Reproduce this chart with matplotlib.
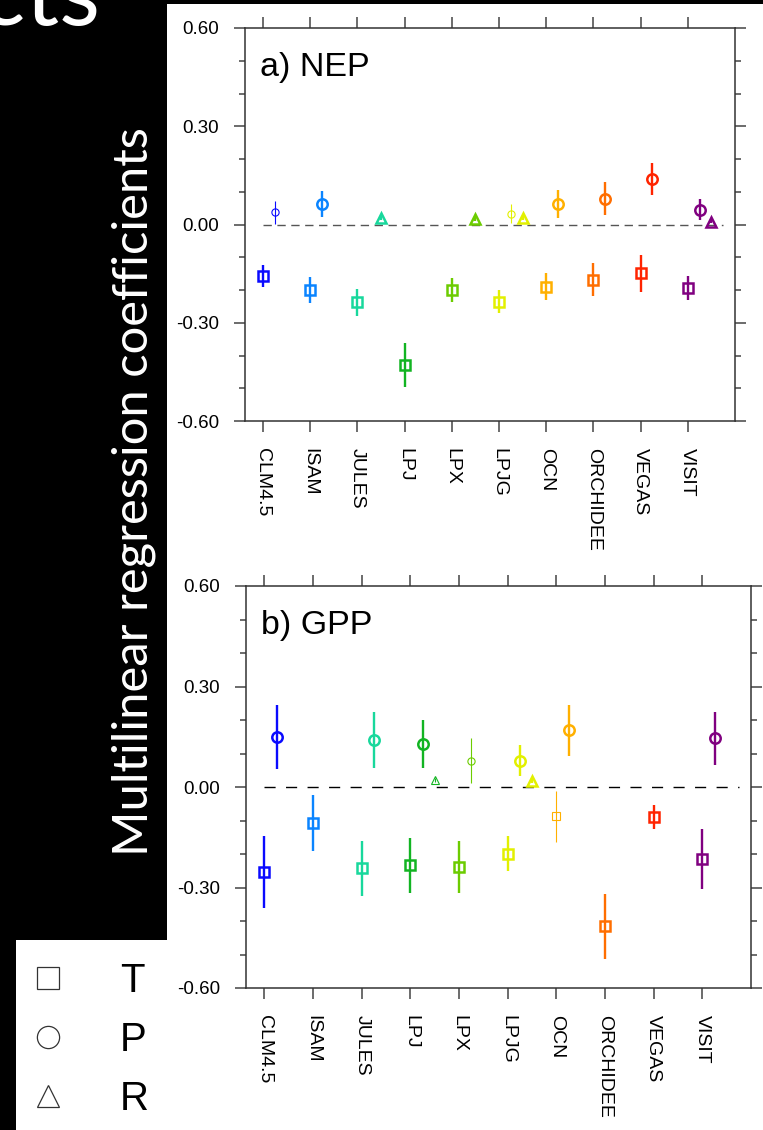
import numpy as np
import matplotlib
matplotlib.use("Agg")
import matplotlib.pyplot as plt
from matplotlib.patches import Rectangle
from matplotlib.lines import Line2D
from matplotlib.ticker import MultipleLocator, FormatStrFormatter

plt.rcParams.update(
    {
        "font.family": ["Liberation Sans", "DejaVu Sans"],
        "axes.linewidth": 1.1,
    }
)

nan = np.nan

# models and colours
models = ["CLM4.5", "ISAM", "JULES", "LPJ", "LPX", "LPJG", "OCN", "ORCHIDEE", "VEGAS", "VISIT"]
model_colors = ["#0a0aff", "#0a84ff", "#18d89c", "#12b422", "#6ccc00",
                "#e2f000", "#ffb000", "#ff6e00", "#ff2400", "#800080"]

# a) NEP : T (temperature), P (precipitation), R (radiation)
nep_T = [-0.158, -0.200, -0.238, -0.428, -0.200, -0.236, -0.190, -0.169, -0.149, -0.194]
nep_T_err = [0.034, 0.040, 0.042, 0.067, 0.037, 0.035, 0.042, 0.050, 0.057, 0.036]
nep_T_sig = [True, True, True, True, True, True, True, True, True, True]
nep_P = [0.037, 0.062, nan, nan, nan, 0.033, 0.063, 0.079, 0.140, 0.045]
nep_P_err = [0.034, 0.040, nan, nan, nan, 0.029, 0.043, 0.050, 0.049, 0.032]
nep_P_sig = [False, True, True, True, True, False, True, True, True, True]
nep_R = [nan, nan, 0.020, nan, 0.018, 0.019, nan, nan, nan, 0.009]
nep_R_err = [nan, nan, 0.006, nan, 0.006, 0.006, nan, nan, nan, 0.005]
nep_R_sig = [True, True, True, True, True, True, True, True, True, True]

# b) GPP
gpp_T = [-0.254, -0.107, -0.243, -0.234, -0.238, -0.199, -0.088, -0.416, -0.090, -0.214]
gpp_T_err = [0.108, 0.083, 0.083, 0.081, 0.077, 0.052, 0.076, 0.097, 0.036, 0.090]
gpp_T_sig = [True, True, True, True, True, True, False, True, True, True]
gpp_P = [0.150, nan, 0.141, 0.128, 0.078, 0.078, 0.169, nan, nan, 0.146]
gpp_P_err = [0.095, nan, 0.083, 0.072, 0.067, 0.046, 0.077, nan, nan, 0.079]
gpp_P_sig = [True, True, True, True, False, True, True, True, True, True]
gpp_R = [nan, nan, nan, 0.020, nan, 0.019, nan, nan, nan, nan]
gpp_R_err = [nan, nan, nan, 0.006, nan, 0.006, nan, nan, nan, nan]
gpp_R_sig = [True, True, True, False, True, True, True, True, True, True]

yticks = [-0.6, -0.3, 0.0, 0.3, 0.6]
legend_labels = ["T", "P", "R"]
ylabel = "Multilinear regression coefficients"

# figure geometry in pixels
W, H = 763, 1130


def fx(x):
    return x / W


def fy(y):
    return 1 - y / H


fig = plt.figure(figsize=(W / 100, H / 100), dpi=100, facecolor="black")

# white areas on the black slide
fig.patches.append(Rectangle((fx(167), 0), fx(763) - fx(167), fy(4),
                             transform=fig.transFigure, facecolor="white",
                             edgecolor="none", zorder=-5))
fig.patches.append(Rectangle((fx(16), 0), fx(167) - fx(16), fy(940),
                             transform=fig.transFigure, facecolor="white",
                             edgecolor="none", zorder=-5))

ax_a = fig.add_axes([fx(245), fy(421), fx(735) - fx(245), (421 - 28) / H])
ax_b = fig.add_axes([fx(246), fy(988), fx(751) - fx(246), (988 - 586) / H])


def draw_panel(ax, series, title, zero_color, dashes):
    ax.hlines(0, 0, 9.75, colors=zero_color, linestyles=(0, dashes), linewidth=1.0, zorder=1)
    for vals, errs, sigs, mk, off in series:
        for i in range(len(models)):
            if np.isnan(vals[i]):
                continue
            sig = sigs[i]
            ax.errorbar(i + off, vals[i], yerr=errs[i], fmt=mk, color=model_colors[i],
                        mfc="none", ms=7.5 if sig else 5.2,
                        mew=1.8 if sig else 0.8,
                        elinewidth=1.7 if sig else 0.8,
                        capsize=0, zorder=3)
    ax.set_xlim(-0.38, 10.0)
    ax.set_ylim(-0.6, 0.6)
    ax.set_xticks(range(len(models)))
    ax.set_xticklabels(models, rotation=270, fontsize=14)
    ax.set_yticks(yticks)
    ax.yaxis.set_major_formatter(FormatStrFormatter("%.2f"))
    ax.yaxis.set_minor_locator(MultipleLocator(0.1))
    ax.tick_params(axis="both", which="both", direction="out", top=True, right=True,
                   color="#444444", width=1.1)
    ax.tick_params(axis="both", which="major", length=8)
    ax.tick_params(axis="y", which="minor", length=4)
    ax.tick_params(axis="y", which="major", labelsize=13.5, pad=10.5)
    ax.tick_params(axis="x", which="major", pad=11.5)
    for sp in ax.spines.values():
        sp.set_color("#333333")
    ax.text(0.03, 0.94, title, transform=ax.transAxes, fontsize=24.5, ha="left", va="top")


draw_panel(ax_a,
           [(nep_T, nep_T_err, nep_T_sig, "s", 0.0),
            (nep_P, nep_P_err, nep_P_sig, "o", 0.25),
            (nep_R, nep_R_err, nep_R_sig, "^", 0.5)],
           "a) NEP", "#555555", (6, 4))
draw_panel(ax_b,
           [(gpp_T, gpp_T_err, gpp_T_sig, "s", 0.0),
            (gpp_P, gpp_P_err, gpp_P_sig, "o", 0.25),
            (gpp_R, gpp_R_err, gpp_R_sig, "^", 0.5)],
           "b) GPP", "black", (8, 7.5))

# slide text in white on black
fig.text(fx(148), fy(492), ylabel, rotation=90, rotation_mode="anchor",
         ha="center", va="baseline", color="white", fontsize=35.3, family="Lato")
fig.text(fx(100), fy(25), "cts", ha="right", va="baseline", color="white",
         fontsize=68, family="Lato")

# legend of marker shapes
handles = [Line2D([], [], ls="none", marker=m, ms=16, mfc="none", mec="#333333", mew=0.9)
           for m in ["s", "o", "^"]]
fig.legend(handles, legend_labels, loc="upper left",
           bbox_to_anchor=(fx(28), fy(962)), bbox_transform=fig.transFigure,
           frameon=False, fontsize=29, handlelength=1.0, handletextpad=1.275,
           labelspacing=0.52, borderpad=0, borderaxespad=0)

fig.savefig("out.png", dpi=100, facecolor="black")
